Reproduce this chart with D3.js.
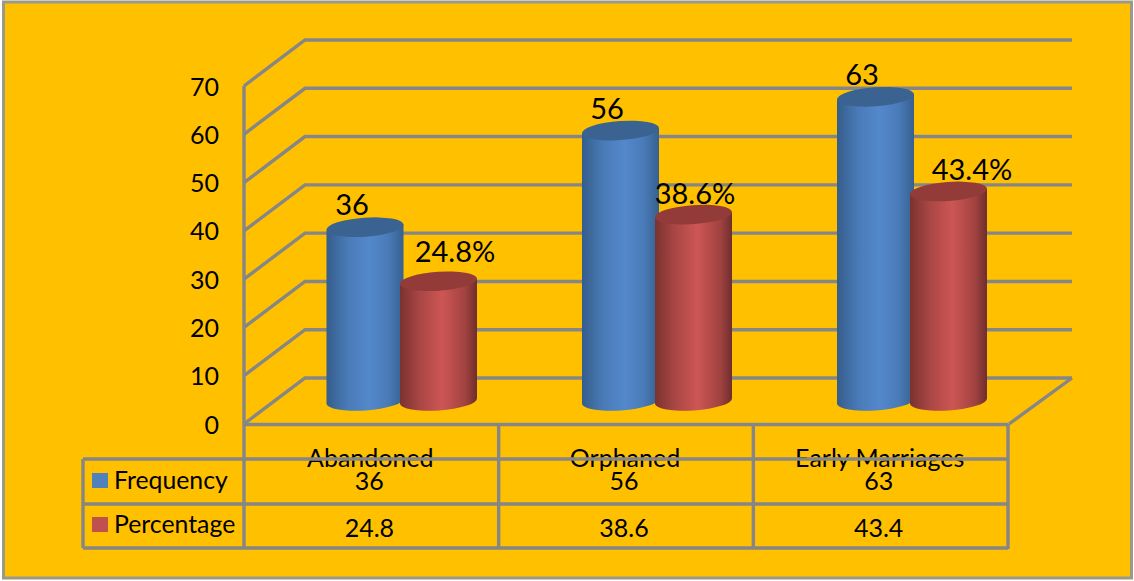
<!DOCTYPE html>
<html><head><meta charset="utf-8">
<script src="https://cdnjs.cloudflare.com/ajax/libs/d3/7.8.5/d3.min.js"></script>
<style>html,body{margin:0;padding:0;background:#fff}svg{display:block}text{font-family:Lato,"Open Sans",sans-serif;fill:#000}</style>
</head><body>
<script>
const categories = ["Abandoned","Orphaned","Early Marriages"];
const frequency = [36,56,63];
const percentage = [24.8,38.6,43.4];
const freqLabels = ["36","56","63"];
const pctLabels = ["24.8%","38.6%","43.4%"];
const pctTable = ["24.8","38.6","43.4"];
const yTicks = [0,10,20,30,40,50,60,70];
const seriesNames = ["Frequency","Percentage"];
const seriesColors = ["#4F81BD","#C0504D"];

const W=1134,H=581, grid="#868686";
const svg=d3.select("body").append("svg").attr("width",W).attr("height",H);
svg.append("rect").attr("x",3.5).attr("y",2).attr("width",1128).attr("height",576).attr("fill","#FFC000").attr("stroke","#9a9a8a").attr("stroke-width",3);

const y=d3.scaleLinear().domain([0,70]).range([424,86]);
const x=d3.scaleBand().domain(categories).range([244,1008]);
const dx=61, dy=-46, baseDy=-23;

const defs=svg.append("defs");
function grad(id,stops){
  const g=defs.append("linearGradient").attr("id",id).attr("x1",0).attr("x2",1).attr("y1",0).attr("y2",0);
  stops.forEach(s=>g.append("stop").attr("offset",s[0]).attr("stop-color",s[1]));
}
grad("gb",[[0,"#355d8b"],[.28,"#4a7bb8"],[.55,"#5388CC"],[.8,"#4a7bb8"],[1,"#36608f"]]);
grad("gr",[[0,"#7a3230"],[.25,"#a84644"],[.55,"#cd5654"],[.85,"#a04240"],[1,"#6f2e2c"]]);

// walls
const gl=svg.append("g").attr("stroke",grid).attr("fill","none").attr("stroke-width",3.4);
yTicks.forEach(t=>{
  gl.append("polyline")
    .attr("points",[[244,y(t)],[244+dx,y(t)+dy],[1072,y(t)+dy]].map(p=>p.join(",")).join(" "));
});
gl.append("line").attr("x1",244).attr("x2",244).attr("y1",y(70)).attr("y2",y(0));
gl.append("polyline").attr("points",[[1072,y(0)+dy],[1009,y(0)]].map(p=>p.join(",")).join(" "));

// cylinders
const barW=38.5, ry=9.5, tilt=-4;
const rad=tilt*Math.PI/180, lift=Math.tan(rad)*barW, rxx=barW/Math.cos(rad);
const offs=[[0,frequency,"gb","#3b6391"],[1,percentage,"gr","#933b39"]];
const centers=[[365,438.5],[620.5,693.5],[875.5,948.5]];
offs.forEach(([si,vals,gid,top])=>{
  const g=svg.append("g");
  categories.forEach((c,i)=>{
    const cx=centers[i][si], yb=y(0)+baseDy, yt=y(vals[i])+baseDy;
    g.append("path").attr("fill",`url(#${gid})`)
      .attr("d",`M${cx-barW},${yt-lift} L${cx-barW},${yb-lift} A${rxx},${ry} ${tilt} 0 0 ${cx+barW},${yb+lift} L${cx+barW},${yt+lift} Z`);
    g.append("ellipse").attr("cx",cx).attr("cy",yt).attr("rx",rxx).attr("ry",ry)
      .attr("transform",`rotate(${tilt} ${cx} ${yt})`).attr("fill",top);
  });
});

// data labels
const lb=svg.append("g").attr("font-size",29).attr("text-anchor","middle");
const fLblX=[352,607,862], pLblX=[455,695,972], pLblGap=[19,11,11];
categories.forEach((c,i)=>{
  lb.append("text").attr("x",fLblX[i]).attr("y",y(frequency[i])+baseDy-12).text(freqLabels[i]);
  lb.append("text").attr("x",pLblX[i]).attr("y",y(percentage[i])+baseDy-pLblGap[i]).text(pctLabels[i]);
});

// y axis
const ax=svg.append("g").attr("transform","translate(225,0)")
  .call(d3.axisLeft(y).tickValues(yTicks).tickSize(0).tickPadding(6));
ax.select(".domain").remove();
ax.selectAll("text").attr("font-size",25).style("font-family","Lato,sans-serif").attr("dy","0.36em").attr("x",-6).attr("fill","#000");

// category labels sit under the table rule, as in the source
const tc=svg.append("g").attr("text-anchor","middle").attr("font-size",25);
categories.forEach(c=>tc.append("text").attr("x",x(c)+x.bandwidth()/2-1).attr("y",467).text(c));

// table rules
const tb=svg.append("g").attr("stroke",grid).attr("stroke-width",3.4);
const colX=[...categories.map(c=>x(c)),x.range()[1]];
tb.append("line").attr("x1",244).attr("x2",1008).attr("y1",424.5).attr("y2",424.5);
[459,504,548].forEach(v=>tb.append("line").attr("x1",83).attr("x2",1008).attr("y1",v).attr("y2",v));
tb.append("line").attr("x1",83).attr("x2",83).attr("y1",459).attr("y2",548);
colX.forEach(cx=>tb.append("line").attr("x1",cx).attr("x2",cx).attr("y1",424).attr("y2",549));

// table values
const tt=svg.append("g").attr("text-anchor","middle").attr("font-size",25);
categories.forEach((c,i)=>{
  const m=x(c)+x.bandwidth()/2-2;
  tt.append("text").attr("x",m).attr("y",490).text(frequency[i]);
  tt.append("text").attr("x",m).attr("y",537).text(pctTable[i]);
});
seriesNames.forEach((n,i)=>{
  svg.append("rect").attr("x",92).attr("y",[473,517][i]).attr("width",16).attr("height",15).attr("fill",seriesColors[i]);
  svg.append("text").attr("x",114).attr("y",[489,533][i]).attr("font-size",24.8).text(n);
});
</script>
</body></html>
